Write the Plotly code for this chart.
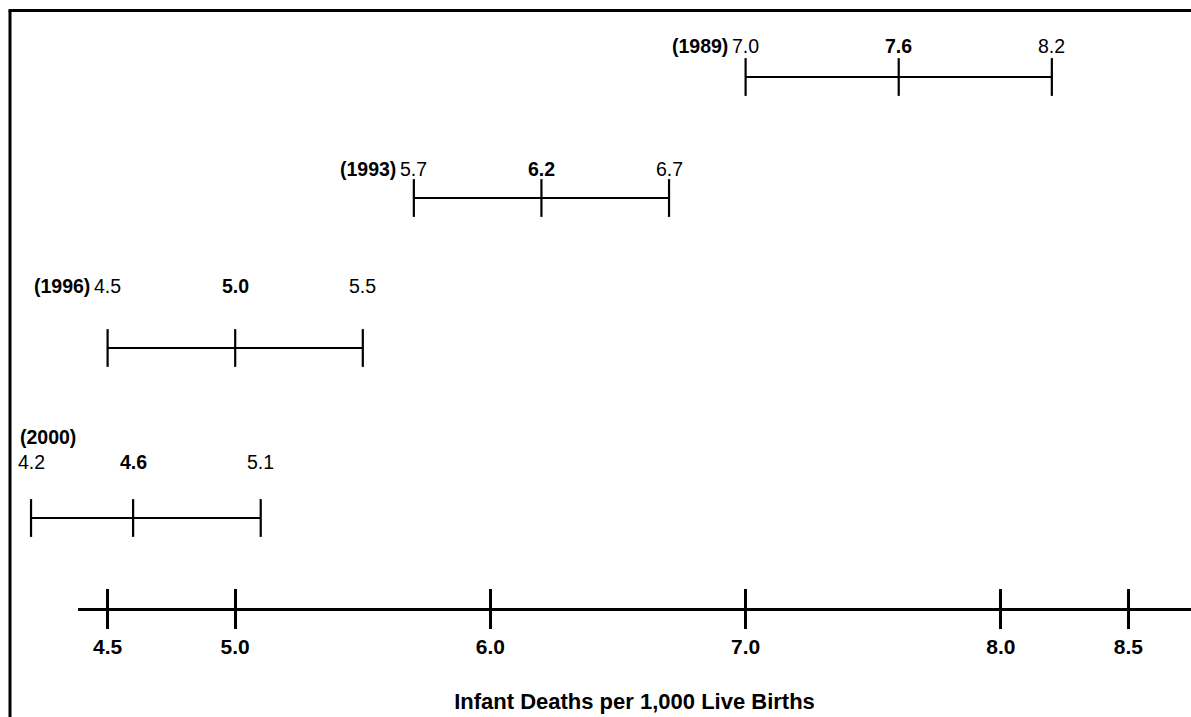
import plotly.graph_objects as go

# ---------------- data ----------------
YEARS = ["1989", "1993", "1996", "2000"]
LOWER = [7.0, 5.7, 4.5, 4.2]
ESTIMATE = [7.6, 6.2, 5.0, 4.6]
UPPER = [8.2, 6.7, 5.5, 5.1]
AXIS_TICKS = [4.5, 5.0, 6.0, 7.0, 8.0, 8.5]
AXIS_TICK_LABELS = ["4.5", "5.0", "6.0", "7.0", "8.0", "8.5"]
X_TITLE = "Infant Deaths per 1,000 Live Births"

# ---------------- layout constants ----------------
W, H = 1191, 717
PX_PER_UNIT = 255.2          # horizontal scale
ZERO_PX = -1040.8            # pixel where value 0 would sit
AXIS_START_PX = 78           # main axis line starts here
AXIS_LINE_Y = 609            # vertical position of main axis (px from top)
ROW_LINE_Y = [77, 198, 348, 518]      # interval rows (px from top)
ROW_LABEL_Y = [46, 169, 286, 462]     # value labels (px from top)
STACKED_YEAR_Y = 437                  # year label on its own line (last row)
FONT = "Liberation Sans, Arial, Helvetica, sans-serif"
LABEL_SIZE = 19.5


def val_at(px):
    return (px - ZERO_PX) / PX_PER_UNIT


fig = go.Figure()

for i, yr in enumerate(YEARS):
    yrow = ROW_LINE_Y[i]
    fig.add_trace(go.Scatter(
        x=[LOWER[i], UPPER[i]], y=[yrow, yrow], mode="lines",
        line=dict(color="black", width=2.2), hoverinfo="skip", showlegend=False,
        xaxis="x", yaxis="y"))
    fig.add_trace(go.Scatter(
        x=[LOWER[i], ESTIMATE[i], UPPER[i]], y=[yrow] * 3, mode="markers",
        marker=dict(symbol="line-ns", size=27, color="black",
                    line=dict(color="black", width=2.2)),
        cliponaxis=False, hoverinfo="skip", showlegend=False,
        xaxis="x", yaxis="y"))

# carrier traces so the main axis and its upper ticks are drawn
fig.add_trace(go.Scatter(x=[AXIS_TICKS[0]], y=[AXIS_LINE_Y], mode="markers",
                         marker=dict(opacity=0), hoverinfo="skip",
                         showlegend=False, xaxis="x2", yaxis="y"))
fig.add_trace(go.Scatter(x=[AXIS_TICKS[0]], y=[AXIS_LINE_Y], mode="markers",
                         marker=dict(opacity=0), hoverinfo="skip",
                         showlegend=False, xaxis="x3", yaxis="y"))

annotations = []
for i, yr in enumerate(YEARS):
    ly = ROW_LABEL_Y[i]
    annotations.append(dict(x=LOWER[i], y=ly, text=f"{LOWER[i]:.1f}",
                            xanchor="center", yanchor="middle"))
    annotations.append(dict(x=ESTIMATE[i], y=ly, text=f"<b>{ESTIMATE[i]:.1f}</b>",
                            xanchor="center", yanchor="middle"))
    annotations.append(dict(x=UPPER[i], y=ly, text=f"{UPPER[i]:.1f}",
                            xanchor="center", yanchor="middle"))
    if i < len(YEARS) - 1:
        annotations.append(dict(x=LOWER[i], y=ly, text=f"<b>({yr})</b>",
                                xanchor="right", yanchor="middle", xshift=-16))
    else:
        annotations.append(dict(x=LOWER[i], y=STACKED_YEAR_Y, text=f"<b>({yr})</b>",
                                xanchor="left", yanchor="middle", xshift=-13))
for a in annotations:
    a.update(xref="x", yref="y", showarrow=False,
             font=dict(family=FONT, size=LABEL_SIZE, color="black"))

axis_pos = 1 - AXIS_LINE_Y / H
axis_dom = [AXIS_START_PX / W, 1]
axis_range = [val_at(AXIS_START_PX), val_at(W)]

fig.update_layout(
    width=W, height=H,
    margin=dict(l=0, r=0, t=0, b=0),
    paper_bgcolor="white", plot_bgcolor="rgba(0,0,0,0)",
    font=dict(family=FONT, color="black"),
    xaxis=dict(domain=[0, 1], range=[val_at(0), val_at(W)], visible=False,
               fixedrange=True),
    yaxis=dict(domain=[0, 1], range=[H, 0], visible=False, fixedrange=True),
    xaxis2=dict(domain=axis_dom, range=axis_range, anchor="free",
                position=axis_pos, showline=True, linewidth=3, linecolor="black",
                showgrid=False, zeroline=False, ticks="outside", ticklen=18,
                tickwidth=3, tickcolor="black", tickmode="array",
                tickvals=AXIS_TICKS, ticktext=AXIS_TICK_LABELS,
                tickfont=dict(family=FONT, size=21, weight="bold"),
                ticklabelstandoff=0,
                title=dict(text=X_TITLE, standoff=36,
                           font=dict(family=FONT, size=22, weight="bold")),
                fixedrange=True),
    xaxis3=dict(domain=axis_dom, range=axis_range, anchor="free",
                position=axis_pos, overlaying="x2", showline=False,
                showgrid=False, zeroline=False, ticks="inside", ticklen=20,
                tickwidth=3, tickcolor="black", tickmode="array",
                tickvals=AXIS_TICKS, showticklabels=False, fixedrange=True),
    annotations=annotations,
    shapes=[
        dict(type="line", xref="paper", yref="paper", x0=10 / W, x1=10 / W,
             y0=0, y1=1 - 10.5 / H, line=dict(color="black", width=3)),
        dict(type="line", xref="paper", yref="paper", x0=8.5 / W, x1=1,
             y0=1 - 10.5 / H, y1=1 - 10.5 / H, line=dict(color="black", width=3)),
    ],
    showlegend=False,
)

fig.write_html("out.html", config={"displayModeBar": False},
               post_script="document.body.style.margin='0';")
